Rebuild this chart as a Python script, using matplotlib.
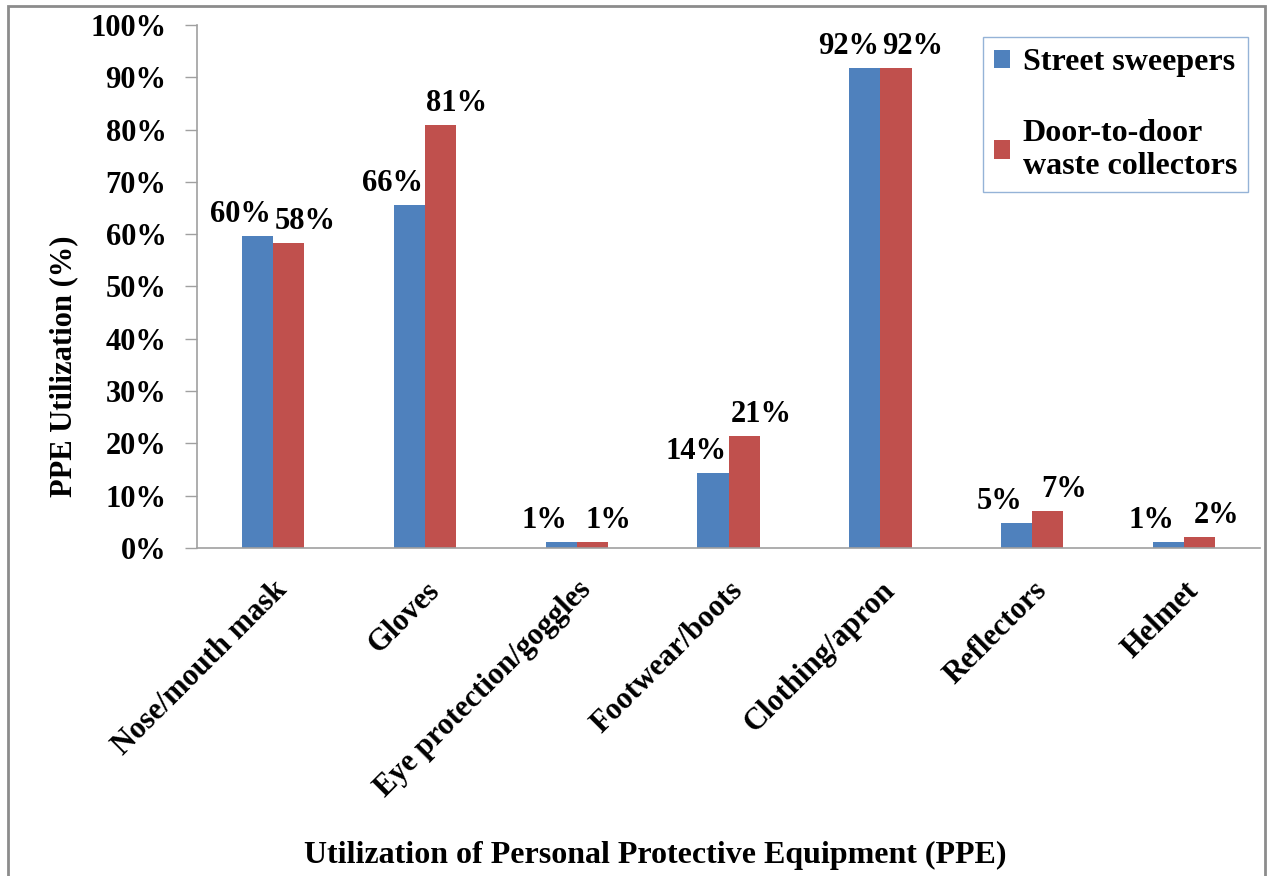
import matplotlib.pyplot as plt
import numpy as np
from matplotlib.patches import Rectangle

# Data
categories = ["Nose/mouth mask", "Gloves", "Eye protection/goggles", "Footwear/boots",
              "Clothing/apron", "Reflectors", "Helmet"]
street_sweepers = [59.7, 65.6, 1.1, 14.3, 91.8, 4.8, 1.1]
door_to_door = [58.3, 80.9, 1.1, 21.4, 91.8, 7.1, 2.1]
series_names = ["Street sweepers", "Door-to-door\nwaste collectors"]

plt.rcParams['font.family'] = ['Liberation Serif', 'DejaVu Serif']
plt.rcParams['font.weight'] = 'bold'
FS = 22

fig = plt.figure(figsize=(12.72, 8.76), dpi=100)
ax = fig.add_axes([0.1549, 0.3744, 0.8357, 0.5971])

x = np.arange(len(categories))
w = 0.205
b1 = ax.bar(x - w / 2, street_sweepers, w, color='#4F81BD', label=series_names[0])
b2 = ax.bar(x + w / 2, door_to_door, w, color='#C0504D', label=series_names[1])

# data labels
for bars, dx in ((b1, -12), (b2, 12)):
    for rect in bars:
        h = rect.get_height()
        ax.annotate(f"{round(h):.0f}%", (rect.get_x() + rect.get_width() / 2, h),
                    xytext=(dx, 5), textcoords='offset points',
                    ha='center', va='bottom', fontsize=FS, fontweight='bold')

ax.set_xlim(-0.5, len(categories) - 0.5)
ax.set_ylim(0, 100)
ax.set_yticks(np.arange(0, 101, 10))
ax.set_yticklabels([f"{v}%" for v in range(0, 101, 10)], fontsize=FS, fontweight='bold')
ax.tick_params(axis='y', length=9, width=1, color='#A0A0A0', pad=13)
ax.set_xticks(x)
ax.set_xticklabels(categories, rotation=45, ha='right', rotation_mode='anchor',
                   fontsize=FS, fontweight='bold')
ax.tick_params(axis='x', length=0, pad=20)

for s in ('top', 'right'):
    ax.spines[s].set_visible(False)
for s in ('left', 'bottom'):
    ax.spines[s].set_color('#A0A0A0')
    ax.spines[s].set_linewidth(1.2)

fig.text(64 / 1272, 1 - 366 / 876, "PPE Utilization (%)", rotation=90,
         ha='center', va='center', fontsize=FS, fontweight='bold')
fig.text(655 / 1272, 1 - 855 / 876, "Utilization of Personal Protective Equipment (PPE)",
         ha='center', va='center', fontsize=23, fontweight='bold')

leg = fig.legend(loc='upper left', bbox_to_anchor=(983 / 1272, 1 - 37 / 876),
                 fontsize=23, frameon=True, fancybox=False, handlelength=0.5,
                 handleheight=0.5, handletextpad=0.4, labelspacing=1.3,
                 borderpad=0.35, borderaxespad=0)
leg.get_frame().set_edgecolor('#7BA0CD')
leg.get_frame().set_linewidth(1.0)

# outer chart border
fig.patches.append(Rectangle((8 / 1272, -0.05), (1265 - 8) / 1272, 1.05 - 6 / 876,
                             transform=fig.transFigure, fill=False,
                             edgecolor='#8C8C8C', linewidth=2))

fig.savefig("out.png", dpi=100)
